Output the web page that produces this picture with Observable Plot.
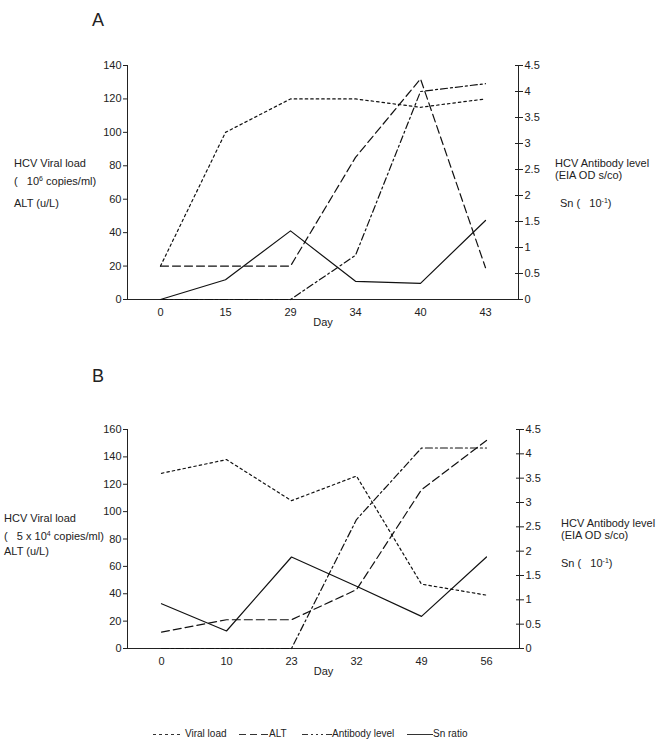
<!DOCTYPE html>
<html>
<head>
<meta charset="utf-8">
<script src="https://cdn.jsdelivr.net/npm/d3@7"></script>
<script src="https://cdn.jsdelivr.net/npm/@observablehq/plot@0.6"></script>
<style>
  body { margin: 0; background: #fff; font-family: "Liberation Sans", Arial, sans-serif; color: #222; }
  #root { position: relative; width: 661px; height: 745px; }
  .lbl { position: absolute; font-size: 11px; line-height: 14px; white-space: nowrap; }
  .title { position: absolute; font-size: 18px; line-height: 20px; }
  .panel { position: absolute; left: 0; }
  sup { font-size: 7px; vertical-align: 4px; line-height: 0; }
  .leg { position: absolute; font-size: 10px; line-height: 12px; white-space: nowrap; top: 728px; }
  .sw { position: absolute; top: 728px; }
</style>
</head>
<body>
<div id="root">
  <div class="title" style="left:92px; top:10px;">A</div>
  <div class="title" style="left:92px; top:366px;">B</div>

  <div class="lbl" style="left:14px; top:156px;">HCV Viral load</div>
  <div class="lbl" style="left:14px; top:174px;">(&nbsp;&nbsp; 10<sup>6</sup> copies/ml)</div>
  <div class="lbl" style="left:14px; top:196px;">ALT (u/L)</div>
  <div class="lbl" style="left:555px; top:156px;">HCV Antibody level</div>
  <div class="lbl" style="left:555px; top:168px;">(EIA OD s/co)</div>
  <div class="lbl" style="left:560px; top:196px;">Sn (&nbsp;&nbsp; 10<sup>-1</sup>)</div>

  <div class="lbl" style="left:4px; top:511px;">HCV Viral load</div>
  <div class="lbl" style="left:4px; top:529px;">(&nbsp;&nbsp; 5 x 10<sup>4</sup> copies/ml)</div>
  <div class="lbl" style="left:4px; top:544px;">ALT (u/L)</div>
  <div class="lbl" style="left:561px; top:516px;">HCV Antibody level</div>
  <div class="lbl" style="left:561px; top:528px;">(EIA OD s/co)</div>
  <div class="lbl" style="left:561px; top:556px;">Sn (&nbsp;&nbsp; 10<sup>-1</sup>)</div>

  <div id="panelA" class="panel" style="top:0px;"></div>
  <div id="panelB" class="panel" style="top:345px;"></div>
  <div id="legend"></div>
</div>
<script>
// ---- Data ----
const daysA = ["0", "15", "29", "34", "40", "43"];
const viralA = [20, 100, 120, 120, 115, 120];      // left axis
const altA = [20, 20, 20, 85, 132, 19];            // left axis
const antibodyA = [0, 0, 0, 0.85, 4.0, 4.15];      // right axis
const snA = [0, 0.38, 1.32, 0.35, 0.31, 1.52];     // right axis

const daysB = ["0", "10", "23", "32", "49", "56"];
const viralB = [128, 138, 108, 126, 47, 39];
const altB = [12, 21, 21, 43, 116, 152];
const antibodyB = [0, 0, 0, 2.65, 4.12, 4.12];
const snB = [0.92, 0.36, 1.88, 1.28, 0.66, 1.88];

const rightTicks = [0, 0.5, 1, 1.5, 2, 2.5, 3, 3.5, 4, 4.5];
const leftTicksA = [0, 20, 40, 60, 80, 100, 120, 140];
const leftTicksB = [0, 20, 40, 60, 80, 100, 120, 140, 160];
const seriesNames = ["Viral load", "ALT", "Antibody level", "Sn ratio"];

const dashes = {
  "Viral load": "2.5,3",
  "ALT": "8,4",
  "Antibody level": "7,3,2,3",
  "Sn ratio": null
};
const legendDashes = {
  "Viral load": "3,3",
  "ALT": "7,4",
  "Antibody level": "6,3,2,3,2,3,2,3,30",
  "Sn ratio": null
};

function panel(days, viral, alt, ab, sn, leftTicks, cfg) {
  const leftMax = leftTicks[leftTicks.length - 1];
  const k = leftMax / 4.5;
  const mk = (vals, scale) => days.map((d, i) => ({day: d, v: vals[i] * scale}));
  const sets = [
    ["Viral load", mk(viral, 1)],
    ["ALT", mk(alt, 1)],
    ["Antibody level", mk(ab, k)],
    ["Sn ratio", mk(sn, k)]
  ];
  const fmt = d => String(Math.round(d / k * 10) / 10);
  return Plot.plot({
    width: 661,
    height: 345,
    marginTop: cfg.marginTop,
    marginBottom: cfg.marginBottom,
    marginLeft: 127,
    marginRight: cfg.marginRight,
    style: {fontFamily: "'Liberation Sans', Arial, sans-serif", fontSize: "11px", color: "#222", background: "transparent"},
    x: {type: "point", domain: days, padding: 0.5, label: null},
    y: {domain: [0, leftMax], label: null},
    marks: [
      Plot.frame({anchor: "left", stroke: "#222"}),
      Plot.frame({anchor: "right", stroke: "#222"}),
      Plot.frame({anchor: "bottom", stroke: "#222"}),
      Plot.axisY(leftTicks, {anchor: "left", tickSize: 4, tickPadding: 2, label: null}),
      Plot.axisY(rightTicks.map(v => v * k), {anchor: "right", tickSize: 4, tickPadding: 2, tickFormat: fmt, label: null}),
      Plot.axisY(rightTicks.map(v => v * k), {anchor: "right", tickSize: 4, dx: -4, tickFormat: () => "", label: null}),
      Plot.axisX({anchor: "bottom", tickSize: 0, tickPadding: 9, label: null}),
      Plot.text(["Day"], {frameAnchor: "bottom", dy: 26, fill: "#222"}),
      ...sets.map(([name, data]) => Plot.lineY(data, {
        x: "day", y: "v", stroke: "#111", strokeWidth: 1.2,
        strokeDasharray: dashes[name] || undefined
      }))
    ]
  });
}

document.getElementById("panelA").append(
  panel(daysA, viralA, altA, antibodyA, snA, leftTicksA, {marginTop: 65, marginBottom: 46, marginRight: 143})
);
document.getElementById("panelB").append(
  panel(daysB, viralB, altB, antibodyB, snB, leftTicksB, {marginTop: 84, marginBottom: 42, marginRight: 142})
);

// ---- Legend ----
const legPos = [
  {sx: 153, sw: 29, tx: 185},
  {sx: 239, sw: 29, tx: 269},
  {sx: 302, sw: 30, tx: 332},
  {sx: 407, sw: 26, tx: 433}
];
const leg = document.getElementById("legend");
seriesNames.forEach((name, i) => {
  const p = legPos[i];
  const svg = d3.create("svg").attr("class", "sw")
    .attr("width", p.sw).attr("height", 12)
    .style("left", p.sx + "px");
  svg.append("line").attr("x1", 0).attr("x2", p.sw).attr("y1", 6.5).attr("y2", 6.5)
    .attr("stroke", "#333").attr("stroke-width", 1)
    .attr("stroke-dasharray", legendDashes[name]);
  leg.append(svg.node());
  const t = document.createElement("div");
  t.className = "leg";
  t.style.left = p.tx + "px";
  t.textContent = name;
  leg.append(t);
});
</script>
</body>
</html>
